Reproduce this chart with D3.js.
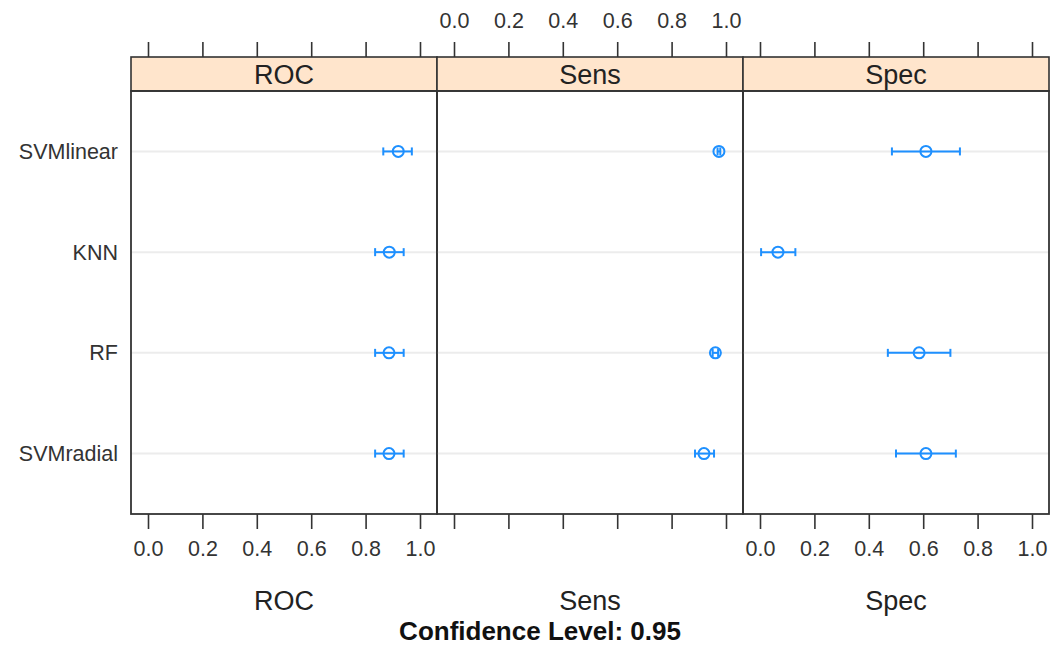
<!DOCTYPE html>
<html>
<head>
<meta charset="utf-8">
<script src="https://cdn.jsdelivr.net/npm/d3@7"></script>
<style>
  body { margin: 0; background: #fff; }
  text { font-family: "Liberation Sans", Arial, sans-serif; }
</style>
</head>
<body>
<div id="chart-area"></div>
<script>
// models top to bottom, as drawn
const models = ['SVMlinear', 'KNN', 'RF', 'SVMradial']
const metrics = ['ROC', 'Sens', 'Spec']
const ticks = [0, 0.2, 0.4, 0.6, 0.8, 1.0]

// estimate, lower, upper for each model (same order as models)
const rocEst = [0.92, 0.887, 0.886, 0.886]
const rocLow = [0.865, 0.835, 0.835, 0.835]
const rocHigh = [0.97, 0.94, 0.94, 0.94]

// KNN has no Sens interval drawn in the picture
const sensEst = [0.974, null, 0.961, 0.919]
const sensLow = [0.969, null, 0.951, 0.886]
const sensHigh = [0.979, null, 0.971, 0.956]

const specEst = [0.61, 0.066, 0.585, 0.61]
const specLow = [0.485, 0.004, 0.47, 0.50]
const specHigh = [0.735, 0.13, 0.70, 0.72]

const series = {
  ROC: [rocEst, rocLow, rocHigh],
  Sens: [sensEst, sensLow, sensHigh],
  Spec: [specEst, specLow, specHigh]
}

const width = 1051
const height = 647
const left = 131
const panelW = 306
const stripTop = 57
const stripH = 34
const bodyTop = stripTop + stripH
const bodyBottom = 514
const blue = '#1e90ff'

const svg = d3.select('#chart-area').append('svg')
  .attr('width', width)
  .attr('height', height)

const x = d3.scaleLinear()
  .domain([-0.0625, 1.0625])
  .range([0, panelW])

const y = d3.scalePoint()
  .domain(models)
  .range([bodyTop, bodyBottom])
  .padding(0.6)

metrics.forEach((m, i) => {
  const g = svg.append('g')
    .attr('transform', `translate(${left + i * panelW},0)`)

  // reference lines
  g.selectAll('.ref').data(models).enter().append('line')
    .attr('x1', 0).attr('x2', panelW)
    .attr('y1', d => y(d)).attr('y2', d => y(d))
    .attr('stroke', '#ececec').attr('stroke-width', 2)

  // strip
  g.append('rect')
    .attr('x', 0).attr('y', stripTop)
    .attr('width', panelW).attr('height', stripH)
    .attr('fill', '#ffe5cc')
    .attr('stroke', '#333').attr('stroke-width', 1.6)
  g.append('text')
    .attr('x', panelW / 2).attr('y', stripTop + stripH / 2 + 10)
    .attr('text-anchor', 'middle')
    .attr('font-size', 27).attr('fill', '#222')
    .text(m)

  // panel border
  g.append('rect')
    .attr('x', 0).attr('y', bodyTop)
    .attr('width', panelW).attr('height', bodyBottom - bodyTop)
    .attr('fill', 'none')
    .attr('stroke', '#333').attr('stroke-width', 1.8)

  // top axis
  const topAxis = d3.axisTop(x).tickValues(ticks).tickSize(15).tickPadding(14)
    .tickFormat(i === 1 ? d3.format('.1f') : '')
  const ta = g.append('g').attr('transform', `translate(0,${stripTop})`).call(topAxis)
  ta.select('.domain').remove()

  // bottom axis
  const botAxis = d3.axisBottom(x).tickValues(ticks).tickSize(15).tickPadding(12)
    .tickFormat(i === 1 ? '' : d3.format('.1f'))
  const ba = g.append('g').attr('transform', `translate(0,${bodyBottom})`).call(botAxis)
  ba.select('.domain').remove()

  g.selectAll('.tick line').attr('stroke', '#333').attr('stroke-width', 1.6)
  g.selectAll('.tick text').attr('font-size', 21.5).attr('fill', '#333')
    .attr('font-family', '"Liberation Sans", Arial, sans-serif')

  // axis label
  g.append('text')
    .attr('x', panelW / 2).attr('y', 610)
    .attr('text-anchor', 'middle')
    .attr('font-size', 27).attr('fill', '#222')
    .text(m)

  const [est, low, high] = series[m]
  const rows = models.map((d, j) => ({ d, e: est[j], lo: low[j], hi: high[j] }))
    .filter(r => r.e != null)

  // interval lines
  g.selectAll('.ci').data(rows).enter().append('line')
    .attr('x1', r => x(r.lo)).attr('x2', r => x(r.hi))
    .attr('y1', r => y(r.d)).attr('y2', r => y(r.d))
    .attr('stroke', blue).attr('stroke-width', 2)
  // caps
  ;['lo', 'hi'].forEach(k => {
    g.selectAll('.cap').data(rows).enter().append('line')
      .attr('x1', r => x(r[k])).attr('x2', r => x(r[k]))
      .attr('y1', r => y(r.d) - 4).attr('y2', r => y(r.d) + 4)
      .attr('stroke', blue).attr('stroke-width', 2)
  })
  // points
  g.selectAll('.pt').data(rows).enter().append('circle')
    .attr('cx', r => x(r.e)).attr('cy', r => y(r.d))
    .attr('r', 5.5)
    .attr('fill', 'none')
    .attr('stroke', blue).attr('stroke-width', 2)
})

// model labels
svg.selectAll('.ylab').data(models).enter().append('text')
  .attr('x', 118).attr('y', d => y(d) + 7.5)
  .attr('text-anchor', 'end')
  .attr('font-size', 21.5).attr('fill', '#333')
  .text(d => d)

svg.append('text')
  .attr('x', 540).attr('y', 640)
  .attr('text-anchor', 'middle')
  .attr('font-size', 26).attr('font-weight', 'bold').attr('fill', '#111')
  .text('Confidence Level: 0.95')
</script>
</body>
</html>
